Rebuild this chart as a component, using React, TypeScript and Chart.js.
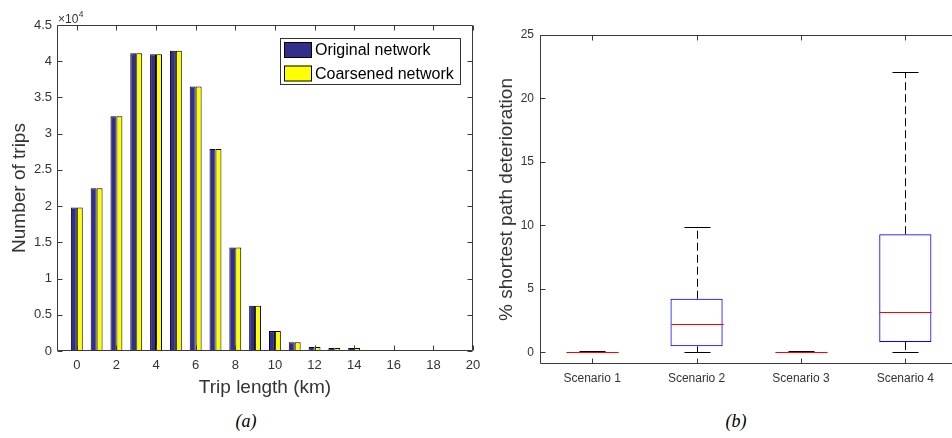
import React, { useEffect, useRef } from "react";
import { Chart, registerables } from "chart.js";

Chart.register(...registerables);

// ---------- Data: (a) trip length distribution ----------
const tripLengthKm = [0, 1, 2, 3, 4, 5, 6, 7, 8, 9, 10, 11, 12, 13, 14, 15];
const originalNetworkTrips = [19800, 22450, 32400, 41100, 40950, 41450, 36500, 27900, 14300, 6250, 2750, 1200, 550, 420, 400, 130];
const coarsenedNetworkTrips = [19800, 22450, 32400, 41100, 40950, 41450, 36500, 27900, 14300, 6250, 2750, 1200, 550, 420, 400, 130];
const tripXTicks = [0, 2, 4, 6, 8, 10, 12, 14, 16, 18, 20];
const tripYTicks = [0, 5000, 10000, 15000, 20000, 25000, 30000, 35000, 40000, 45000];
const tripYTickLabels = ["0", "0.5", "1", "1.5", "2", "2.5", "3", "3.5", "4", "4.5"];

// ---------- Data: (b) shortest path deterioration box plot ----------
const scenarioLabels = ["Scenario 1", "Scenario 2", "Scenario 3", "Scenario 4"];
const boxLower = [0, 0.47, 0, 0.81];
const boxUpper = [0.03, 4.22, 0.03, 9.3];
const boxMedian = [0, 2.23, 0, 3.2];
const whiskerMin = [0, 0, 0, 0];
const whiskerMax = [0.1, 9.87, 0.1, 22.1];
const deteriorationTicks = [0, 5, 10, 15, 20, 25];

const FONT = "'Liberation Sans', Arial, Helvetica, sans-serif";
const AXIS_COLOR = "#3a3a3a";
const TEXT_COLOR = "#333333";
const BLUE_BAR = "#322E8C";
const YELLOW_BAR = "#FFFF00";

Chart.defaults.font.family = FONT;

const framePlugin = {
  id: "frame",
  afterDraw(chart: any, _args: any, opts: any) {
    const { ctx, chartArea: a } = chart;
    const xs = chart.scales.x;
    const ys = chart.scales.y;
    const len = opts.tickLength ?? 5;
    const L = Math.round(a.left) + 0.5;
    const R = Math.round(a.right) - 0.5;
    const T = Math.round(a.top) + 0.5;
    const B = Math.round(a.bottom) - 0.5;
    ctx.save();
    ctx.strokeStyle = opts.color || AXIS_COLOR;
    ctx.lineWidth = 1;
    ctx.setLineDash([]);
    ctx.beginPath();
    ctx.moveTo(L, T);
    ctx.lineTo(R, T);
    ctx.lineTo(R, B);
    ctx.lineTo(L, B);
    ctx.closePath();
    xs.ticks.forEach((_t: any, i: number) => {
      const px = Math.round(xs.getPixelForTick(i)) + 0.5;
      ctx.moveTo(px, B);
      ctx.lineTo(px, B - len);
      ctx.moveTo(px, T);
      ctx.lineTo(px, T + len);
    });
    ys.ticks.forEach((_t: any, i: number) => {
      const py = Math.round(ys.getPixelForTick(i)) + 0.5;
      ctx.moveTo(L, py);
      ctx.lineTo(L + len, py);
      ctx.moveTo(R, py);
      ctx.lineTo(R - len, py);
    });
    ctx.stroke();
    ctx.restore();
  },
};

const exponentPlugin = {
  id: "exponent",
  afterDraw(chart: any, _args: any, opts: any) {
    const { ctx } = chart;
    ctx.save();
    ctx.fillStyle = TEXT_COLOR;
    ctx.textBaseline = "alphabetic";
    ctx.textAlign = "left";
    ctx.font = `12px ${FONT}`;
    ctx.fillText(opts.base, opts.x, opts.y);
    const w = ctx.measureText(opts.base).width;
    ctx.font = `8.5px ${FONT}`;
    ctx.fillText(opts.exp, opts.x + w + 0.5, opts.y - 5.5);
    ctx.restore();
  },
};

const insideLegendPlugin = {
  id: "insideLegend",
  afterDraw(chart: any, _args: any, opts: any) {
    const { ctx } = chart;
    ctx.save();
    ctx.fillStyle = "#ffffff";
    ctx.fillRect(opts.x, opts.y, opts.width, opts.height);
    ctx.strokeStyle = "#333333";
    ctx.lineWidth = 1;
    ctx.strokeRect(opts.x + 0.5, opts.y + 0.5, opts.width, opts.height);
    chart.data.datasets.forEach((ds: any, i: number) => {
      const sx = opts.x + opts.swatchLeft;
      const sy = opts.y + opts.firstTop + i * opts.rowStep;
      ctx.fillStyle = ds.backgroundColor;
      ctx.fillRect(sx, sy, opts.swatchW, opts.swatchH);
      ctx.strokeStyle = "#000";
      ctx.strokeRect(sx + 0.5, sy + 0.5, opts.swatchW - 1, opts.swatchH - 1);
      ctx.fillStyle = "#000";
      ctx.font = `16px ${FONT}`;
      ctx.textBaseline = "middle";
      ctx.textAlign = "left";
      ctx.fillText(ds.label, sx + opts.swatchW + 3, sy + opts.swatchH / 2 + 1);
    });
    ctx.restore();
  },
};

const boxPlotPlugin = {
  id: "boxExtras",
  afterDatasetsDraw(chart: any) {
    const { ctx } = chart;
    const xs = chart.scales.x;
    const ys = chart.scales.y;
    const spacing = xs.getPixelForTick(1) - xs.getPixelForTick(0);
    const boxHalf = spacing * 0.25;
    const capHalf = spacing * 0.125;
    ctx.save();
    ctx.lineWidth = 1;
    scenarioLabels.forEach((_l, i) => {
      const cx = Math.round(xs.getPixelForTick(i)) + 0.5;
      const yQ1 = ys.getPixelForValue(boxLower[i]);
      const yQ3 = ys.getPixelForValue(boxUpper[i]);
      const yLo = Math.round(ys.getPixelForValue(whiskerMin[i])) + 0.5;
      const yHi = Math.round(ys.getPixelForValue(whiskerMax[i])) + 0.5;
      const yMed = Math.round(ys.getPixelForValue(boxMedian[i])) + 0.5;
      // whiskers dashed
      ctx.strokeStyle = "#000";
      ctx.setLineDash([8, 4]);
      ctx.beginPath();
      if (yHi < yQ3) {
        ctx.moveTo(cx, yQ3);
        ctx.lineTo(cx, yHi);
      }
      if (yLo > yQ1) {
        ctx.moveTo(cx, yQ1);
        ctx.lineTo(cx, yLo);
      }
      ctx.stroke();
      // caps
      ctx.setLineDash([]);
      ctx.beginPath();
      ctx.moveTo(cx - capHalf, yHi);
      ctx.lineTo(cx + capHalf, yHi);
      ctx.moveTo(cx - capHalf, yLo);
      ctx.lineTo(cx + capHalf, yLo);
      ctx.stroke();
      // median
      ctx.strokeStyle = "#FF0000";
      ctx.beginPath();
      ctx.moveTo(cx - boxHalf, yMed);
      ctx.lineTo(cx + boxHalf, yMed);
      ctx.stroke();
    });
    ctx.restore();
  },
};

function tripConfig(): any {
  return {
    type: "bar",
    data: {
      datasets: [
        {
          label: "Original network",
          data: tripLengthKm.map((x, i) => ({ x, y: originalNetworkTrips[i] })),
          backgroundColor: BLUE_BAR,
          borderColor: "#000000",
          borderWidth: 1,
          borderSkipped: false,
          categoryPercentage: 0.6,
          barPercentage: 1.0,
        },
        {
          label: "Coarsened network",
          data: tripLengthKm.map((x, i) => ({ x, y: coarsenedNetworkTrips[i] })),
          backgroundColor: YELLOW_BAR,
          borderColor: "#000000",
          borderWidth: 1,
          borderSkipped: false,
          categoryPercentage: 0.6,
          barPercentage: 1.0,
        },
      ],
    },
    options: {
      responsive: false,
      animation: false,
      devicePixelRatio: 1,
      layout: { padding: { top: 25, right: 17, left: 0, bottom: 0 } },
      scales: {
        x: {
          type: "linear",
          min: -1,
          max: 20,
          offset: false,
          afterBuildTicks: (s: any) => {
            s.ticks = tripXTicks.map((value) => ({ value }));
          },
          afterFit: (s: any) => {
            s.height = 49;
          },
          grid: { display: false, drawTicks: false },
          border: { display: false },
          ticks: {
            color: TEXT_COLOR,
            font: { size: 13 },
            padding: 7,
            maxRotation: 0,
            autoSkip: false,
            callback: (v: any) => String(v),
          },
          title: {
            display: true,
            text: "Trip length (km)",
            color: TEXT_COLOR,
            font: { size: 19 },
            padding: { top: 0, bottom: 1 },
          },
        },
        y: {
          min: 0,
          max: 45000,
          afterBuildTicks: (s: any) => {
            s.ticks = tripYTicks.map((value) => ({ value }));
          },
          afterFit: (s: any) => {
            s.width = 57;
          },
          grid: { display: false, drawTicks: false },
          border: { display: false },
          ticks: {
            color: TEXT_COLOR,
            font: { size: 13 },
            padding: 5,
            autoSkip: false,
            callback: (_v: any, i: number) => tripYTickLabels[i],
          },
          title: {
            display: true,
            text: "Number of trips",
            color: TEXT_COLOR,
            font: { size: 19 },
            padding: { top: 8, bottom: 0 },
          },
        },
      },
      plugins: {
        legend: { display: false },
        tooltip: { enabled: false },
        frame: { color: AXIS_COLOR, tickLength: 5 },
        exponent: { base: "×10", exp: "4", x: 58, y: 22.5 },
        insideLegend: {
          x: 280,
          y: 38,
          width: 180,
          height: 46,
          swatchLeft: 4,
          firstTop: 4,
          rowStep: 23.5,
          swatchW: 28,
          swatchH: 16,
        },
      },
    },
    plugins: [framePlugin, exponentPlugin, insideLegendPlugin],
  };
}

function boxConfig(): any {
  return {
    type: "bar",
    data: {
      labels: scenarioLabels,
      datasets: [
        {
          label: "IQR",
          data: scenarioLabels.map((_l, i) => [boxLower[i], boxUpper[i]]),
          backgroundColor: "rgba(0,0,0,0)",
          borderColor: "#0000FF",
          borderWidth: 1,
          borderSkipped: false,
          categoryPercentage: 1.0,
          barPercentage: 0.5,
        },
      ],
    },
    options: {
      responsive: false,
      animation: false,
      devicePixelRatio: 1,
      layout: { padding: { top: 35, right: 2.5, left: 0, bottom: 0 } },
      scales: {
        x: {
          type: "category",
          offset: true,
          afterFit: (s: any) => {
            s.height = 36;
          },
          grid: { display: false, drawTicks: false, offset: true },
          border: { display: false },
          ticks: {
            color: TEXT_COLOR,
            font: { size: 12 },
            padding: 7,
            maxRotation: 0,
            autoSkip: false,
          },
        },
        y: {
          min: -0.92,
          max: 25,
          afterBuildTicks: (s: any) => {
            s.ticks = deteriorationTicks.map((value) => ({ value }));
          },
          afterFit: (s: any) => {
            s.width = 60;
          },
          grid: { display: false, drawTicks: false },
          border: { display: false },
          ticks: {
            color: TEXT_COLOR,
            font: { size: 12 },
            padding: 6,
            autoSkip: false,
            callback: (v: any) => String(v),
          },
          title: {
            display: true,
            text: "% shortest path deterioration",
            color: TEXT_COLOR,
            font: { size: 19 },
            padding: { top: 15, bottom: 0 },
          },
        },
      },
      plugins: {
        legend: { display: false },
        tooltip: { enabled: false },
        frame: { color: AXIS_COLOR, tickLength: 5 },
      },
    },
    plugins: [boxPlotPlugin, framePlugin],
  };
}

export default function App() {
  const leftRef = useRef<HTMLCanvasElement>(null);
  const rightRef = useRef<HTMLCanvasElement>(null);

  useEffect(() => {
    const c1 = new Chart(leftRef.current as HTMLCanvasElement, tripConfig());
    const c2 = new Chart(rightRef.current as HTMLCanvasElement, boxConfig());
    return () => {
      c1.destroy();
      c2.destroy();
    };
  }, []);

  const captionFont = "italic 18px 'Liberation Serif', 'DejaVu Serif', serif";
  return (
    <div
      style={{
        position: "absolute",
        left: 0,
        top: 0,
        width: 952,
        height: 438,
        overflow: "hidden",
        background: "#ffffff",
      }}
    >
      <canvas
        ref={leftRef}
        width={490}
        height={400}
        style={{ position: "absolute", left: 0, top: 0, width: 490, height: 400 }}
      />
      <canvas
        ref={rightRef}
        width={480}
        height={400}
        style={{ position: "absolute", left: 480, top: 0, width: 480, height: 400 }}
      />
      <div
        style={{
          position: "absolute",
          left: 196,
          top: 411,
          width: 100,
          height: 22,
          lineHeight: "22px",
          textAlign: "center",
          font: captionFont,
          color: "#000",
        }}
      >
        (a)
      </div>
      <div
        style={{
          position: "absolute",
          left: 686,
          top: 411,
          width: 100,
          height: 22,
          lineHeight: "22px",
          textAlign: "center",
          font: captionFont,
          color: "#000",
        }}
      >
        (b)
      </div>
    </div>
  );
}
